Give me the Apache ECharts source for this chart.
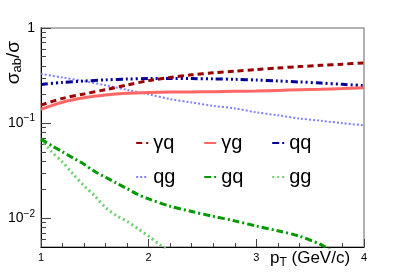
<!DOCTYPE html>
<html><head><meta charset="utf-8">
<script src="https://cdn.jsdelivr.net/npm/echarts@6/dist/echarts.min.js"></script>
<style>html,body{margin:0;padding:0;background:#fff}#c{width:407px;height:275px}</style>
</head><body><div id="c"></div>
<script>
const pT = [1.0,1.2,1.4,1.6,1.8,2.0,2.2,2.4,2.6,2.8,3.0,3.2,3.4,3.6,3.8,4.0];
const gammaQ = [0.155,0.182,0.203,0.225,0.252,0.280,0.302,0.322,0.338,0.352,0.366,0.380,0.393,0.405,0.417,0.430];
const gammaG = [0.140,0.166,0.185,0.198,0.206,0.210,0.212,0.213,0.214,0.216,0.218,0.221,0.224,0.227,0.231,0.236];
const qqV = [0.255,0.268,0.277,0.285,0.291,0.294,0.295,0.294,0.292,0.289,0.284,0.278,0.271,0.264,0.256,0.248];
const qgV = [0.330,0.302,0.277,0.250,0.224,0.201,0.179,0.165,0.152,0.143,0.130,0.121,0.112,0.106,0.100,0.095];
const pTgq = [1.0,1.1,1.2,1.3,1.4,1.5,1.6,1.7,1.8,1.9,2.0,2.2,2.4,2.6,2.8,3.0,3.2,3.4,3.6,3.7];
const gqV = [0.068,0.058,0.050,0.043,0.037,0.031,0.027,0.0235,0.0205,0.0178,0.016,0.0134,0.0118,0.0105,0.0094,0.0083,0.0074,0.0065,0.0053,0.0046];
const pTgg = [1.0,1.1,1.2,1.3,1.4,1.5,1.6,1.7,1.8,1.9,2.0,2.1,2.2];
const ggV = [0.068,0.050,0.039,0.029,0.022,0.0172,0.013,0.0107,0.0093,0.0078,0.0065,0.0053,0.0044];
const names = ['γq','γg','qq','qg','gq','gg'];
const xTicks = [1,2,3,4];
const yMajor = [0.01,0.1,1];
const yMinor = [0.006,0.007,0.008,0.009,0.02,0.03,0.04,0.05,0.06,0.07,0.08,0.09,0.2,0.3,0.4,0.5,0.6,0.7,0.8,0.9];

const FONT = '"Liberation Sans", Arial, sans-serif';
const zip = (xs, ys) => xs.map((x, i) => [x, ys[i]]);
const colors = ['#990000','#ff6666','#000099','#8080ff','#009900','#70d070'];
const styles = [
  {type:[6,4], width:3},
  {type:'solid', width:3},
  {type:[7,3,2,3,2,3,2,3], width:3},
  {type:[2,2], width:2},
  {type:[7,3,2,3], width:3},
  {type:[2,3], width:3}
];
const dataSets = [zip(pT,gammaQ), zip(pT,gammaG), zip(pT,qqV), zip(pT,qgV), zip(pTgq,gqV), zip(pTgg,ggV)];

const series = names.map((n, i) => ({
  name: n, type: 'line', data: dataSets[i], symbol: 'none', smooth: 0.3,
  clip: true, z: 10 - i,
  itemStyle: {color: colors[i]},
  lineStyle: Object.assign({color: colors[i]}, styles[i])
}));

const legPos = [[135,133],[203,133],[271,133],[135,167],[203,167],[271,167]];
const legends = names.map((n, i) => ({
  data: [n], left: legPos[i][0], top: legPos[i][1], padding: 0,
  itemWidth: 12, itemHeight: 18, itemGap: 0,
  selectedMode: false,
  itemStyle: {opacity: 0},
  textStyle: {fontFamily: FONT, fontSize: 20, color: '#000', padding: [0,0,0,0]}
}));

const logLabel = v => {
  if (v === 1) return '1';
  const e = Math.round(Math.log10(v));
  return '10{sup|' + (e < 0 ? '\u2212' + (-e) : e) + '}';
};

const chart = echarts.init(document.getElementById('c'), null, {renderer: 'canvas'});
chart.setOption({
  animation: false,
  backgroundColor: '#fff',
  grid: {left: 41, right: 43, top: 28, bottom: 28, show: true, borderColor: '#999', borderWidth: 1.5, backgroundColor: 'transparent'},
  legend: legends,
  xAxis: {
    type: 'value', min: 1, max: 4, interval: 1,
    axisLine: {lineStyle: {color: '#000', width: 1}},
    axisTick: {inside: true, length: 8, lineStyle: {color: '#444'}},
    minorTick: {show: true, splitNumber: 5, length: 4, lineStyle: {color: '#444'}},
    splitLine: {show: false},
    axisLabel: {fontFamily: FONT, fontSize: 11, color: '#000', margin: 5,
      formatter: v => xTicks.includes(v) ? String(v) : ''}
  },
  yAxis: [{
    type: 'log', logBase: 10, min: 0.005, max: 1,
    axisLine: {show: true, lineStyle: {color: '#000', width: 1}},
    axisTick: {inside: true, length: 10, customValues: yMajor, lineStyle: {color: '#444'}},
    splitLine: {show: false},
    axisLabel: {customValues: yMajor, margin: 6, fontFamily: FONT, fontSize: 14, color: '#000',
      formatter: logLabel,
      rich: {sup: {fontFamily: FONT, fontSize: 10, verticalAlign: 'top', padding: [0,0,9,0], color: '#000'}}}
  }, {
    type: 'log', logBase: 10, min: 0.005, max: 1, position: 'left',
    axisLine: {show: false},
    axisTick: {show: true, inside: true, length: 5, customValues: yMinor, lineStyle: {color: '#444'}},
    splitLine: {show: false},
    axisLabel: {show: false}
  }],
  series: series,
  graphic: [
    {type: 'text', left: 4, top: 41, rotation: Math.PI/2, z: 100,
      style: {text: 'σ{sub|ab}/σ', fontFamily: FONT, fontSize: 19, fill: '#000',
        rich: {sub: {fontFamily: FONT, fontSize: 13, fill: '#000', padding: [8,0,0,0]}}}},
    {type: 'text', left: 270, top: 250, z: 100,
      style: {text: 'p{sub|T} (GeV/c)', fontFamily: FONT, fontSize: 17, fill: '#000',
        rich: {sub: {fontFamily: FONT, fontSize: 12, fill: '#000', padding: [8,0,0,0]}}}}
  ]
});
</script></body></html>
